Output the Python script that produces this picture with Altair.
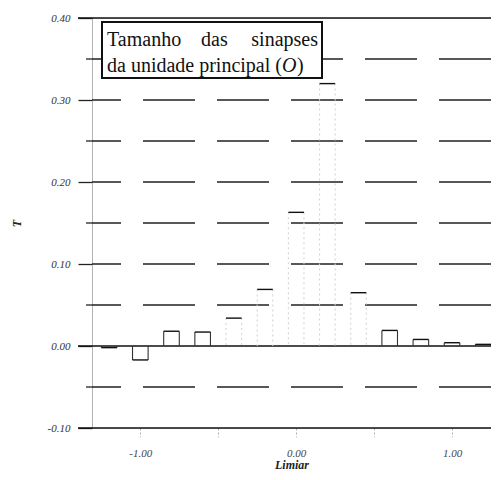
import altair as alt
import pandas as pd

# ---- data ----
limiar = [-1.2, -1.0, -0.8, -0.6, -0.4, -0.2, 0.0, 0.2, 0.4, 0.6, 0.8, 1.0, 1.2]
tamanho = [-0.002, -0.017, 0.018, 0.017, 0.034, 0.069, 0.163, 0.320, 0.065, 0.019, 0.008, 0.004, 0.002]
bin_width = 0.1
y_ticks = [-0.10, 0.00, 0.10, 0.20, 0.30, 0.40]
y_grid = [-0.05, 0.05, 0.10, 0.15, 0.20, 0.25, 0.30, 0.35]
y_minor = [-0.05, 0.05, 0.15, 0.25, 0.35]
y_solid = [-0.10, 0.00, 0.40]
x_ticks = [-1.0, -0.5, 0.0, 0.5, 1.0]
box_words_1 = ["Tamanho", "das", "sinapses"]
box_line_2 = ["da unidade principal (", "O", ")"]

W, H = 399, 410
SERIF = "Liberation Serif"

bars = pd.DataFrame({"Limiar": limiar, "T": tamanho})
bars["x0"] = bars["Limiar"] - bin_width / 2
bars["x1"] = bars["Limiar"] + bin_width / 2

xscale = alt.Scale(domain=[-1.31, 1.25], nice=False, zero=False)
yscale = alt.Scale(domain=[-0.10, 0.40], nice=False, zero=False)

x_axis = alt.Axis(
    values=x_ticks, grid=False, domain=False,
    labelExpr="abs(datum.value) == 0.5 ? '' : replace(format(datum.value, '.2f'), '\u2212', '-')",
    tickSize=9, tickColor="#999", tickDash=[2, 2], tickWidth=0.8,
    labelPadding=10, labelFont=SERIF, labelFontStyle="italic", labelFontSize=11,
    labelColor="#444", title="Limiar", titleFont=SERIF, titleFontStyle="italic",
    titleFontWeight="bold", titleFontSize=12, titlePadding=1, titleColor="#222",
)
y_axis = alt.Axis(
    values=y_ticks, grid=False,
    labelExpr="replace(format(datum.value, '.2f'), '\u2212', '-')",
    tickSize=14, tickColor="#222", tickWidth=1.3, domainColor="#aaa", domainWidth=0.8,
    labelPadding=8, labelFont=SERIF, labelFontStyle="italic", labelFontSize=11,
    labelColor="#333", title="T", titleFont=SERIF, titleFontStyle="italic",
    titleFontWeight="bold", titleFontSize=12, titlePadding=24, titleColor="#222",
)

# dashed gridlines
grid = alt.Chart(pd.DataFrame({"v": y_grid})).mark_rule(
    color="#222", strokeWidth=1.3, strokeDash=[52, 22]
).encode(y=alt.Y("v:Q", scale=yscale, axis=y_axis))

# minor tick stubs
minor = alt.Chart(pd.DataFrame({"v": y_minor})).mark_rule(
    color="#222", strokeWidth=1.3
).encode(y=alt.Y("v:Q", scale=yscale), x=alt.value(-6), x2=alt.value(0))

# solid lines (frame top/bottom and zero)
solid = alt.Chart(pd.DataFrame({"v": y_solid})).mark_rule(
    color="#111", strokeWidth=1.5
).encode(y=alt.Y("v:Q", scale=yscale), x=alt.value(-14), x2=alt.value(W))

# bar tops
tops = alt.Chart(bars).mark_rule(color="#111", strokeWidth=1.4).encode(
    x=alt.X("x0:Q", scale=xscale, axis=x_axis),
    x2="x1:Q",
    y=alt.Y("T:Q", scale=yscale),
)

side_color = alt.condition("datum.T > 0.03", alt.value("#d4d4d4"), alt.value("#333"))
side_dash = alt.condition("datum.T > 0.03", alt.value([2, 3]), alt.value([1, 0]))
sides_l = alt.Chart(bars).mark_rule(strokeWidth=1.1).encode(
    x=alt.X("x0:Q", scale=xscale), y=alt.Y("T:Q", scale=yscale), y2=alt.datum(0),
    color=side_color, strokeDash=side_dash,
)
sides_r = alt.Chart(bars).mark_rule(strokeWidth=1.1).encode(
    x=alt.X("x1:Q", scale=xscale), y=alt.Y("T:Q", scale=yscale), y2=alt.datum(0),
    color=side_color, strokeDash=side_dash,
)

# text box
one = pd.DataFrame({"a": [0]})
box = alt.Chart(one).mark_rect(fill="white", stroke="#111", strokeWidth=2).encode(
    x=alt.value(10), x2=alt.value(230), y=alt.value(4), y2=alt.value(60)
)
txt_style = dict(font=SERIF, fontSize=20, color="#111", baseline="alphabetic")
w1 = alt.Chart(one).mark_text(align="left", **txt_style).encode(
    x=alt.value(15), y=alt.value(28), text=alt.value(box_words_1[0]))
w2 = alt.Chart(one).mark_text(align="left", **txt_style).encode(
    x=alt.value(109), y=alt.value(28), text=alt.value(box_words_1[1]))
w3 = alt.Chart(one).mark_text(align="right", **txt_style).encode(
    x=alt.value(226), y=alt.value(28), text=alt.value(box_words_1[2]))
l2a = alt.Chart(one).mark_text(align="left", **txt_style).encode(
    x=alt.value(15), y=alt.value(54), text=alt.value(box_line_2[0]))
l2b = alt.Chart(one).mark_text(align="left", fontStyle="italic", **txt_style).encode(
    x=alt.value(190), y=alt.value(54), text=alt.value(box_line_2[1]))
l2c = alt.Chart(one).mark_text(align="left", **txt_style).encode(
    x=alt.value(205), y=alt.value(54), text=alt.value(box_line_2[2]))

chart = alt.layer(
    grid, minor, solid, sides_l, sides_r, tops, box, w1, w2, w3, l2a, l2b, l2c
).properties(
    width=W, height=H,
    autosize=alt.AutoSizeParams(type="none"),
    padding={"left": 84, "top": 10, "right": 0, "bottom": 44},
).configure_view(stroke=None).configure(background="white")

chart.save("out.html", embed_options={"renderer": "svg", "actions": False})
